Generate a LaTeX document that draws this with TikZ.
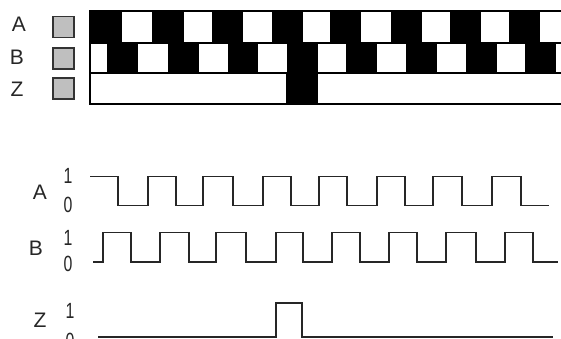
\documentclass[tikz,border=0pt]{standalone}
\usepackage{fontspec}
\setmainfont{Liberation Sans}
\begin{document}
\begin{tikzpicture}[x=1pt,y=-1pt,
  lbl/.style={inner sep=0pt,font=\fontsize{21}{21}\selectfont,text=black!85},
  dig/.style={inner sep=0pt,font=\fontsize{22}{22}\selectfont,text=black!85,xscale=0.72},
  sq/.style={draw=black!80,line width=1.2pt,fill=black!25},
  wave/.style={draw=black!85,line width=1.5pt,line join=miter},
  track/.style={draw=black,line width=1.3pt}]
\useasboundingbox (0,0) rectangle (561,338);
% top disk track
\fill[white] (90,11) rectangle (566,104);
\foreach \a/\b in {90/122,152/184,212/243,272/303,330/361,391/422,450/481,509/540}
  \fill[black] (\a,11) rectangle (\b,43);
\foreach \a/\b in {107/138,168/199,228/258,287/318,346/377,406/437,466/497,525/556}
  \fill[black] (\a,43) rectangle (\b,73);
\fill[black] (286,73) rectangle (318,104);
\draw[track] (566,11) -- (90,11) -- (90,104) -- (566,104);
\draw[track] (90,43) -- (566,43);
\draw[track] (90,73) -- (566,73);
% squares
\node[sq,minimum width=21pt,minimum height=21pt,inner sep=0pt] (sqA) at (63.5,27) {};
\node[sq,minimum width=21pt,minimum height=21pt,inner sep=0pt] (sqB) at (63.5,58.5) {};
\node[sq,minimum width=21pt,minimum height=21pt,inner sep=0pt] (sqZ) at (63.5,88.5) {};
% top labels
\node[lbl] (tA) at (19,24) {A};
\node[lbl] (tB) at (17,57) {B};
\node[lbl] (tZ) at (17,89) {Z};
% bottom labels
\node[lbl] (wA) at (40,192) {A};
\node[lbl] (wB) at (36,248) {B};
\node[lbl] (wZ) at (40,320) {Z};
\node[dig] (a1) at (68,176) {1};
\node[dig] (a0) at (68,205) {0};
\node[dig] (b1) at (68,238) {1};
\node[dig] (b0) at (68,264) {0};
\node[dig] (z1) at (70,311) {1};
\node[dig] (z0) at (70,341) {0};
% waveforms
\def\hA{176.5}\def\lA{205.5}
\draw[wave] (90,\hA) -- (118,\hA) -- (118,\lA) -- (148,\lA) -- (148,\hA) -- (176,\hA) -- (176,\lA)
  -- (203,\lA) -- (203,\hA) -- (233,\hA) -- (233,\lA) -- (263,\lA) -- (263,\hA) -- (291,\hA)
  -- (291,\lA) -- (319,\lA) -- (319,\hA) -- (347,\hA) -- (347,\lA) -- (377,\lA) -- (377,\hA)
  -- (405,\hA) -- (405,\lA) -- (433,\lA) -- (433,\hA) -- (462,\hA) -- (462,\lA) -- (492,\lA)
  -- (492,\hA) -- (521,\hA) -- (521,\lA) -- (549,\lA);
\def\hB{232.5}\def\lB{262}
\draw[wave] (93,\lB) -- (103,\lB) -- (103,\hB) -- (131,\hB) -- (131,\lB) -- (160,\lB) -- (160,\hB)
  -- (189,\hB) -- (189,\lB) -- (216,\lB) -- (216,\hB) -- (246,\hB) -- (246,\lB) -- (276,\lB)
  -- (276,\hB) -- (303,\hB) -- (303,\lB) -- (332,\lB) -- (332,\hB) -- (360,\hB) -- (360,\lB)
  -- (389,\lB) -- (389,\hB) -- (417,\hB) -- (417,\lB) -- (446,\lB) -- (446,\hB) -- (476,\hB)
  -- (476,\lB) -- (505,\lB) -- (505,\hB) -- (533,\hB) -- (533,\lB) -- (558,\lB);
\draw[wave] (98,337) -- (276,337) -- (276,303) -- (302,303) -- (302,337) -- (553,337);
\end{tikzpicture}
\end{document}
